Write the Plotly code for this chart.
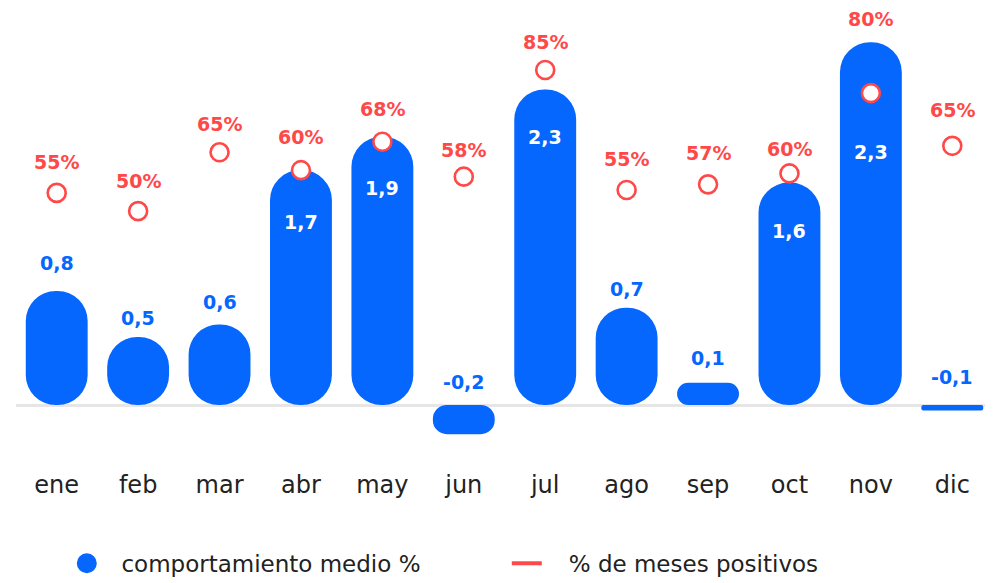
import plotly.graph_objects as go

# ---------------- data ----------------
months = ["ene", "feb", "mar", "abr", "may", "jun", "jul", "ago", "sep", "oct", "nov", "dic"]
avg_return = [0.82, 0.49, 0.58, 1.69, 1.93, -0.21, 2.27, 0.70, 0.16, 1.60, 2.61, -0.04]
avg_return_labels = ["0,8", "0,5", "0,6", "1,7", "1,9", "-0,2", "2,3", "0,7", "0,1", "1,6", "2,3", "-0,1"]
pct_positive = [54.5, 50.0, 64.5, 60.1, 67.1, 58.5, 84.8, 55.2, 56.6, 59.3, 79.1, 66.1]
pct_labels = ["55%", "50%", "65%", "60%", "68%", "58%", "85%", "55%", "57%", "60%", "80%", "65%"]
legend_names = ["comportamiento medio %", "% de meses positivos"]

# ---------------- styles ----------------
BLUE = "#0567fe"
RED = "#ff4848"
DARK = "#222222"
FONT = "DejaVu Sans"
W, H = 993, 583
M_L, M_R, M_T, M_B = 8, 8, 10, 123
PX_PER_UNIT = 139.0
ZERO_PX_ABOVE_BOTTOM = 63.0
PX_PER_PCT = 4.057
PCT_ZERO_PX_ABOVE_BOTTOM = 54.0
BAR_WIDTH = 0.76
label_inside = [False, False, False, True, True, False, True, False, False, True, True, False]
value_label_shift = [28, 19, 22, -52, -51, 23, -48, 19, 25, -48, -110, 28]
pct_label_shift = [31, 30, 28, 33, 33, 27, 28, 31, 31, 24, 74, 36]
NBSP = "\u00a0"

plot_h = H - M_T - M_B
plot_w = W - M_L - M_R
cat_px = plot_w / len(months)
bar_px = BAR_WIDTH * cat_px

y_range = [-ZERO_PX_ABOVE_BOTTOM / PX_PER_UNIT, (plot_h - ZERO_PX_ABOVE_BOTTOM) / PX_PER_UNIT]
y2_range = [-PCT_ZERO_PX_ABOVE_BOTTOM / PX_PER_PCT, (plot_h - PCT_ZERO_PX_ABOVE_BOTTOM) / PX_PER_PCT]

fig = go.Figure()

# pill-shaped bars (rounded at both ends)
for m, v in zip(months, avg_return):
    r = min(bar_px / 2, abs(v) * PX_PER_UNIT / 2)
    fig.add_trace(go.Bar(
        x=[m], y=[v], base=[0], width=BAR_WIDTH,
        marker=dict(color=BLUE, line=dict(width=0), cornerradius=r),
        opacity=1, showlegend=False, hoverinfo="skip"))

fig.add_trace(go.Scatter(
    x=months, y=pct_positive, yaxis="y2", mode="markers",
    marker=dict(symbol="circle", size=18, color="white", line=dict(color=RED, width=2.6)),
    showlegend=False, hoverinfo="skip", cliponaxis=False))

# legend entries
fig.add_trace(go.Scatter(
    x=[None], y=[None], mode="markers", name=NBSP * 2 + legend_names[0],
    marker=dict(symbol="circle", size=16, color=BLUE, line=dict(color=BLUE, width=4))))
fig.add_trace(go.Scatter(
    x=[None], y=[None], mode="lines", name=NBSP * 3 + legend_names[1],
    line=dict(color=RED, width=4)))

annotations = []
for m, v, lab, inside, sh in zip(months, avg_return, avg_return_labels, label_inside, value_label_shift):
    annotations.append(dict(
        x=m, y=(v if inside else max(v, 0)), xref="x", yref="y", text=lab,
        showarrow=False, yshift=sh, xanchor="center", yanchor="middle",
        font=dict(family=FONT, size=19, color=("white" if inside else BLUE), weight=700)))
for m, p, lab, sh in zip(months, pct_positive, pct_labels, pct_label_shift):
    annotations.append(dict(
        x=m, y=p, xref="x", yref="y2", text=lab,
        showarrow=False, yshift=sh, xanchor="center", yanchor="middle",
        font=dict(family=FONT, size=19, color=RED, weight=700)))

fig.update_layout(
    width=W, height=H,
    margin=dict(l=M_L, r=M_R, t=M_T, b=M_B, pad=0, autoexpand=False),
    paper_bgcolor="white", plot_bgcolor="white",
    barmode="overlay",
    font=dict(family=FONT, color=DARK),
    xaxis=dict(type="category", categoryorder="array", categoryarray=months,
               range=[-0.5, len(months) - 0.5], showgrid=False, showline=False,
               zeroline=False, ticks="", tickfont=dict(size=24, color=DARK, family=FONT)),
    yaxis=dict(range=y_range, showgrid=False, showticklabels=False, ticks="",
               zeroline=True, zerolinecolor="#e6e6e6", zerolinewidth=3, showline=False),
    yaxis2=dict(range=y2_range, overlaying="y", visible=False),
    showlegend=True,
    legend=dict(orientation="h", x=0.052, xanchor="left", y=-0.164, yanchor="top",
                font=dict(size=23, color=DARK, family=FONT),
                entrywidth=395, entrywidthmode="pixels", bgcolor="rgba(0,0,0,0)"),
    annotations=annotations,
)

fig.write_html("out.html")
